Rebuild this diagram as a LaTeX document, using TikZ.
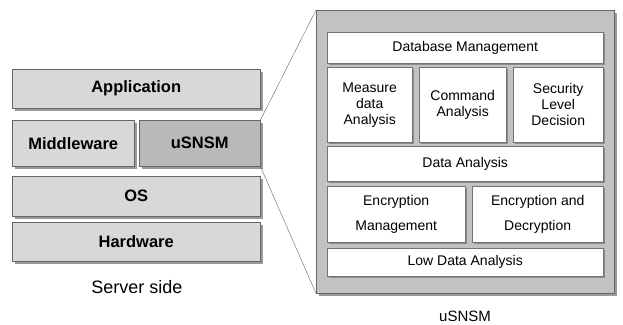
\documentclass[tikz,border=0pt]{standalone}
\usepackage{fontspec}
\setmainfont{Liberation Sans}
\usetikzlibrary{shadows}

\definecolor{layergray}{HTML}{D8D8D8}
\definecolor{modgray}{HTML}{B9B9B9}
\definecolor{framegray}{HTML}{C2C2C2}

\begin{document}
\begin{tikzpicture}[x=1pt,y=-1pt,
	layer/.style={draw=black!60,fill=layergray,anchor=north west,inner sep=0pt,
		font=\bfseries\fontsize{16.5}{18}\selectfont,
		drop shadow={shadow xshift=3pt,shadow yshift=-3pt,fill=black!40,opacity=1}},
	part/.style={draw=black!55,fill=white,anchor=north west,inner sep=0pt,align=center,
		font=\fontsize{14}{16}\selectfont,
		drop shadow={shadow xshift=2pt,shadow yshift=-2pt,fill=black!45,opacity=1}}]
	\useasboundingbox (0,0) rectangle (623,324);
	% 左侧 服务器层
	\node[layer,minimum width=248pt,minimum height=39pt] (app) at (12,69) {Application};
	\node[layer,minimum width=122pt,minimum height=46pt] (mid) at (12,120) {Middleware};
	\node[layer,fill=modgray,minimum width=121pt,minimum height=46pt] (usnsm) at (139,120) {uSNSM};
	\node[layer,minimum width=248pt,minimum height=40pt] (os) at (12,176) {OS};
	\node[layer,minimum width=248pt,minimum height=39pt] (hw) at (12,222) {Hardware};
	\node[font=\fontsize{18}{20}\selectfont] (server) at (137,287) {Server side};
	% 右侧 放大框
	\node[draw=black!60,fill=framegray,anchor=north west,inner sep=0pt,
		minimum width=298pt,minimum height=283pt,
		drop shadow={shadow xshift=3pt,shadow yshift=-3pt,fill=black!40,opacity=1}] (frame) at (316,10) {};
	\node[part,minimum width=276pt,minimum height=31pt] (db) at (327,32) {Database Management};
	\node[part,minimum width=85pt,minimum height=75pt] (meas) at (327,67) {Measure\\data\\Analysis};
	\node[part,minimum width=87pt,minimum height=75pt] (cmd) at (419,67) {Command\\Analysis};
	\node[part,minimum width=90pt,minimum height=75pt] (sec) at (513,67) {Security\\Level\\Decision};
	\node[part,minimum width=276pt,minimum height=35pt] (data) at (327,146) {Data Analysis};
	\node[part,minimum width=138pt,minimum height=56pt] (encm) at (327,186) {Encryption\\[9pt]Management};
	\node[part,minimum width=131pt,minimum height=56pt] (encd) at (472,186) {Encryption and\\[9pt]Decryption};
	\node[part,minimum width=276pt,minimum height=28pt] (low) at (327,248) {Low Data Analysis};
	\node[font=\fontsize{15}{17}\selectfont] (title) at (465,316) {uSNSM};
	% 连线
	\draw[black!60] (usnsm.north east) -- (frame.north west);
	\draw[black!60] (usnsm.south east) -- (frame.south west);
\end{tikzpicture}
\end{document}
